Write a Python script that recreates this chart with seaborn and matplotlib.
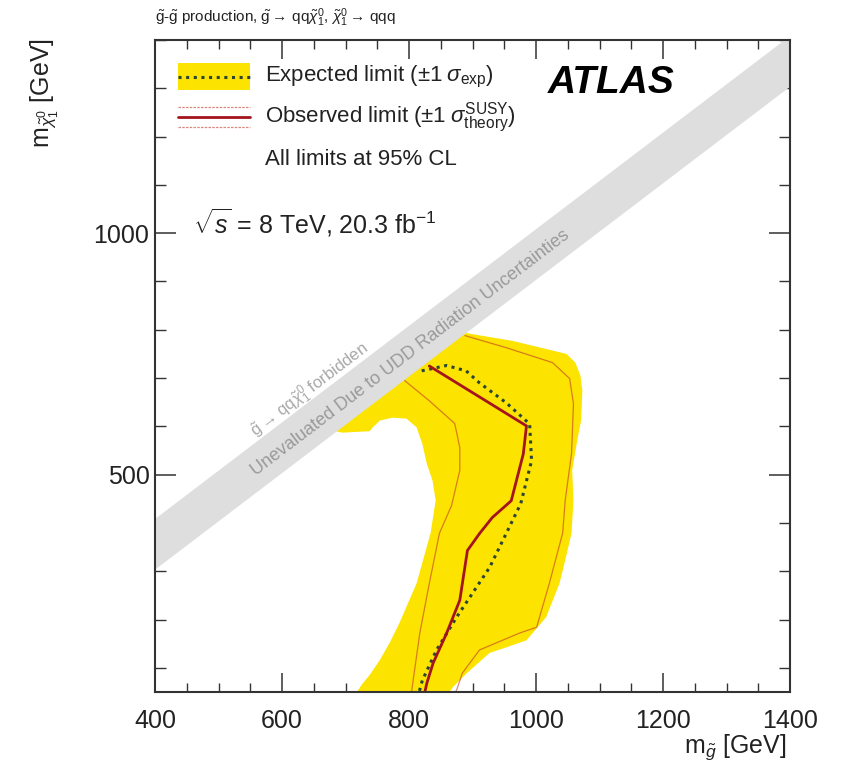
import math
import numpy as np
import pandas as pd
import matplotlib
matplotlib.use("Agg")
import matplotlib.pyplot as plt
from matplotlib.patches import Rectangle
from matplotlib.ticker import MultipleLocator
import seaborn as sns

# ---- axis ranges (GeV) ----
x_range = [400, 1400]
y_range = [50, 1400]

# diagonal band "unevaluated" region: m_chi between m_gluino+low and m_gluino+high
band_x = [300, 1500]
band_low_offset = -95
band_high_offset = 10

# expected limit +-1 sigma envelope (closed contour)
exp_band_x = [680, 870, 895, 963, 1026, 1048, 1062, 1070, 1073, 1071, 1065, 1057,
              1059, 1056, 1046, 1037, 1016, 985, 950, 927, 891, 869, 864,
              718, 726, 738, 754, 770, 785, 812, 834, 842, 837, 828, 821, 812,
              796, 774, 754, 743, 738, 695, 684]
exp_band_y = [600, 800, 792, 777, 757, 750, 732, 705, 674, 612, 571, 509,
              447, 379, 323, 275, 205, 157, 141, 131, 89, 60, 50,
              50, 66, 85, 116, 153, 193, 275, 379, 447, 488, 523, 564, 598,
              616, 618, 612, 598, 590, 587, 590]

# expected limit
exp_x = [820, 859, 890, 911, 953, 990, 993, 976, 927, 875, 843, 821, 816]
exp_y = [715, 726, 715, 690, 649, 605, 529, 440, 308, 205, 136, 74, 50]

# observed limit
obs_x = [832, 985, 980, 961, 931, 911, 892, 880, 859, 838, 828, 825]
obs_y = [725, 601, 543, 446, 411, 378, 343, 240, 171, 110, 68, 50]

# observed limit, theory -1 sigma
obs_dn_x = [793, 832, 872, 880, 880, 867, 848, 832, 817, 806, 804]
obs_dn_y = [695, 653, 606, 556, 509, 436, 379, 275, 172, 69, 50]

# observed limit, theory +1 sigma
obs_up_x = [888, 953, 1026, 1053, 1059, 1056, 1046, 1042, 1021, 1001, 974, 911, 884, 875, 873]
obs_up_y = [788, 763, 732, 699, 647, 544, 447, 379, 275, 184, 172, 137, 89, 54, 50]

# ---- style ----
sns.set_theme(style="ticks")
plt.rcParams["font.family"] = ["Liberation Sans", "DejaVu Sans"]
plt.rcParams["mathtext.fontset"] = "custom"
plt.rcParams["mathtext.rm"] = "Liberation Sans"
plt.rcParams["mathtext.it"] = "Liberation Sans:italic"
plt.rcParams["mathtext.bf"] = "Liberation Sans:bold"
plt.rcParams["mathtext.sf"] = "Liberation Sans"
plt.rcParams["text.color"] = "#222222"

YELLOW = "#fce300"
BAND_GREY = "#dedede"
OBS_RED = "#a3141c"
EXP_DARK = "#2b4436"
THEO = "#c0392b"

fig = plt.figure(figsize=(8.42, 7.66), dpi=100)
ax = fig.add_axes([155 / 842, 74 / 766, 635 / 842, 652 / 766])
ax.set_xlim(*x_range)
ax.set_ylim(*y_range)

# expected +-1 sigma envelope
ax.fill(exp_band_x, exp_band_y, color=YELLOW, lw=0, zorder=1)

# theory variations of the observed limit
for xs, ys in [(obs_dn_x, obs_dn_y), (obs_up_x, obs_up_y)]:
    sns.lineplot(x=xs, y=ys, sort=False, estimator=None, ax=ax, color=THEO,
                 lw=0.9, alpha=0.6, zorder=2)

# expected and observed limits
sns.lineplot(x=exp_x, y=exp_y, sort=False, estimator=None, ax=ax, color=EXP_DARK,
             lw=2.2, linestyle=(0, (1.0, 1.5)), zorder=3)
sns.lineplot(x=obs_x, y=obs_y, sort=False, estimator=None, ax=ax, color=OBS_RED,
             lw=2.0, zorder=4)

# kinematically unevaluated diagonal band
bx = np.array(band_x, dtype=float)
ax.fill_between(bx, bx + band_low_offset, bx + band_high_offset, color=BAND_GREY,
                lw=0, zorder=5)

# angle of the diagonal on screen
p1 = ax.transData.transform((400, 400))
p2 = ax.transData.transform((1400, 1400))
angle = math.degrees(math.atan2(p2[1] - p1[1], p2[0] - p1[0]))

ax.text(802, 752, "Unevaluated Due to UDD Radiation Uncertainties", rotation=angle,
        rotation_mode="anchor", ha="center", va="center", fontsize=13,
        color="#9a9a9a", zorder=6)
ax.text(643, 676, r"$\tilde{\mathrm{g}}\rightarrow\,\mathrm{qq}\tilde{\chi}^{0}_{1}$ forbidden",
        rotation=angle, rotation_mode="anchor", ha="center", va="center",
        fontsize=12, color="#a8a8a8", zorder=6)

# ---- axes / ticks ----
ax.xaxis.set_major_locator(MultipleLocator(200))
ax.xaxis.set_minor_locator(MultipleLocator(50))
ax.yaxis.set_major_locator(MultipleLocator(500))
ax.yaxis.set_minor_locator(MultipleLocator(100))
ax.tick_params(which="both", direction="in", top=True, right=True,
               colors="#333333", labelcolor="#222222", labelsize=18, zorder=10)
ax.tick_params(axis="x", which="major", length=14, width=1.1, pad=12)
ax.tick_params(axis="x", which="minor", length=6.5, width=1.0)
ax.tick_params(axis="y", which="major", length=15, width=1.1, pad=4)
ax.tick_params(axis="y", which="minor", length=8, width=1.0)
for s in ax.spines.values():
    s.set_color("#333333")
    s.set_linewidth(1.5)
    s.set_zorder(10)
ax.set_xlabel("")
ax.set_ylabel("")

fig.text(787 / 842, 1 - 747 / 766, r"$\mathrm{m}_{\tilde{g}}$ [GeV]",
         ha="right", va="center", fontsize=18)
fig.text(45 / 842, 1 - 38 / 766, r"$\mathrm{m}_{\tilde{\chi}^{0}_{1}}$ [GeV]",
         rotation=90, ha="center", va="top", fontsize=18)
fig.text(155 / 842, 1 - 18 / 766,
         r"$\tilde{\mathrm{g}}$-$\tilde{\mathrm{g}}$ production, "
         r"$\tilde{\mathrm{g}}\rightarrow\,\mathrm{qq}\tilde{\chi}^{0}_{1}$, "
         r"$\tilde{\chi}^{0}_{1}\rightarrow\,\mathrm{qqq}$",
         ha="left", va="center", fontsize=11)

# ---- legend ----
tr = ax.transAxes
ax.add_patch(Rectangle((0.036, 0.923), 0.114, 0.042, transform=tr,
                       facecolor=YELLOW, lw=0, zorder=7))
ax.plot([0.036, 0.150], [0.944, 0.944], transform=tr, color=EXP_DARK, lw=2.2,
        linestyle=(0, (1.0, 1.5)), zorder=8)
ax.plot([0.036, 0.150], [0.882, 0.882], transform=tr, color=OBS_RED, lw=2.0, zorder=8)
for yy in (0.897, 0.866):
    ax.plot([0.036, 0.150], [yy, yy], transform=tr, color=THEO, lw=0.9, alpha=0.6,
            linestyle=(0, (2, 1)), zorder=8)
ax.text(0.173, 0.943, r"Expected limit ($\pm1\;\sigma_{\mathrm{exp}}$)", transform=tr,
        ha="left", va="center", fontsize=16, zorder=8)
ax.text(0.173, 0.880, r"Observed limit ($\pm1\;\sigma^{\mathrm{SUSY}}_{\mathrm{theory}}$)",
        transform=tr, ha="left", va="center", fontsize=16, zorder=8)
ax.text(0.173, 0.816, "All limits at 95% CL", transform=tr, ha="left", va="center",
        fontsize=16, zorder=8)
ax.text(0.060, 0.719, r"$\sqrt{s}$ = 8 TeV, 20.3 fb$^{-1}$", transform=tr,
        ha="left", va="center", fontsize=18, zorder=8)
ax.text(0.619, 0.934, "ATLAS", transform=tr, ha="left", va="center", fontsize=28,
        fontweight="bold", fontstyle="italic", color="black", zorder=8)

fig.savefig("out.png", dpi=100)
